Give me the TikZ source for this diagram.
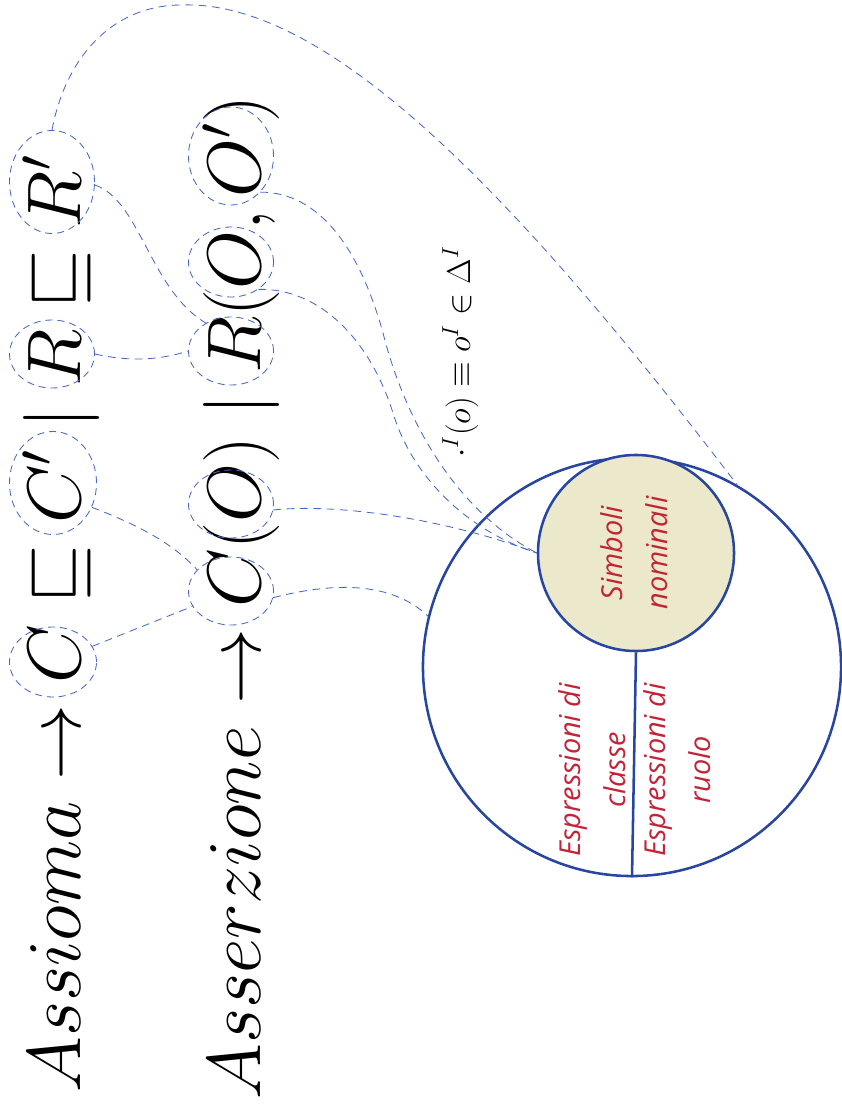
\RequirePackage{fix-cm}
\documentclass[tikz,border=0pt]{standalone}
\usepackage{fontspec}
\usetikzlibrary{shapes.geometric}
\newfontfamily\handfont{Open Sans}
\definecolor{dashblue}{RGB}{70,105,195}
\definecolor{ringblue}{RGB}{40,70,160}
\definecolor{labelred}{RGB}{195,35,55}
\definecolor{nomfill}{RGB}{236,232,204}
\tikzset{
    hole/.style={ellipse, draw=dashblue, dash pattern=on 5pt off 3.5pt, line width=0.6pt, inner sep=0pt},
    link/.style={dashblue, dash pattern=on 5.5pt off 4pt, line width=0.6pt},
    ring/.style={circle, draw=ringblue, line width=1.8pt, inner sep=0pt},
    hand/.style={rotate=90, labelred, align=center, font=\handfont\itshape\fontsize{20.5}{32}\selectfont},
    big/.style={rotate=90, inner sep=0pt, font=\fontsize{54}{60}\selectfont}
}
\begin{document}
\begin{tikzpicture}[x=0.025cm, y=-0.025cm]
                \useasboundingbox (0, 0) rectangle (841, 1115);
                \node[ring, minimum size=10.45cm] (outer) at (632, 667) {};
                \node[ring, fill=nomfill, minimum size=4.9cm] (simb) at (636, 553) {};
                \draw (simb.south)--(outer.south) [ringblue, line width=1.8pt];
                \node[hand] (nom) at (634, 553) {Simboli\\nominali};
                \node[hand] (cls) at (592, 770) {Espressioni di\\classe};
                \node[hand] (rol) at (677, 770) {Espressioni di\\ruolo};
                \node[big, anchor=base west] (axiom) at (80, 1093) {$Assioma \rightarrow C \sqsubseteq C' \mid R \sqsubseteq R'$};
                \node[big, anchor=base west] (assert) at (260, 1100) {$Asserzione \rightarrow C(O) \mid R(O, O')$};
                \node[rotate=90, anchor=base, inner sep=0pt, font=\fontsize{23.5}{28}\selectfont] (interp) at (470, 352) {$\cdot^I(o) \equiv o^I \in \Delta^I$};
                \node[hole, minimum width=2.175cm, minimum height=1.75cm] (aC) at (53, 662) {};
                \node[hole, minimum width=2.175cm, minimum height=2.575cm] (aCp) at (53, 483) {};
                \node[hole, minimum width=2.125cm, minimum height=1.7cm] (aR) at (52, 354) {};
                \node[hole, minimum width=2.125cm, minimum height=2.575cm] (aRp) at (52, 182) {};
                \node[hole, minimum width=2.125cm, minimum height=1.7cm] (bC) at (231, 591) {};
                \node[hole, minimum width=2.125cm, minimum height=1.7cm] (bO) at (231, 504) {};
                \node[hole, minimum width=2.125cm, minimum height=1.7cm] (bR) at (231, 351) {};
                \node[hole, minimum width=2.125cm, minimum height=1.75cm] (bOb) at (231, 262) {};
                \node[hole, minimum width=2.125cm, minimum height=2.45cm] (bOp) at (231, 156) {};
                \coordinate (apex) at (182, 5);
                \draw (aC)--(bC) [link];
                \draw (aCp.-32) .. controls (130, 522) and (170, 540) .. (bC.148) [link];
                \draw (aR.east) .. controls (130, 362) and (160, 360) .. (bR.west) [link];
                \draw (aRp.-4) .. controls (140, 200) and (150, 290) .. (bR.132) [link];
                \draw (aRp.north) .. controls (65, 60) and (110, 5) .. (apex) .. controls (330, 0) and (520, 200) .. (outer.60) [link];
                \draw (bC.-9) .. controls (330, 583) and (390, 580) .. (outer.166) [link];
                \draw (bO.-8) .. controls (340, 503) and (450, 520) .. (simb.west) [link];
                \draw (bOb.-45) .. controls (320, 288) and (370, 340) .. (393, 413) .. controls (410, 470) and (460, 528) .. (simb.west) [link];
                \draw (bOp.-51) .. controls (320, 192) and (360, 250) .. (383, 333) .. controls (405, 420) and (455, 510) .. (simb.west) [link];
            \end{tikzpicture}
\end{document}
